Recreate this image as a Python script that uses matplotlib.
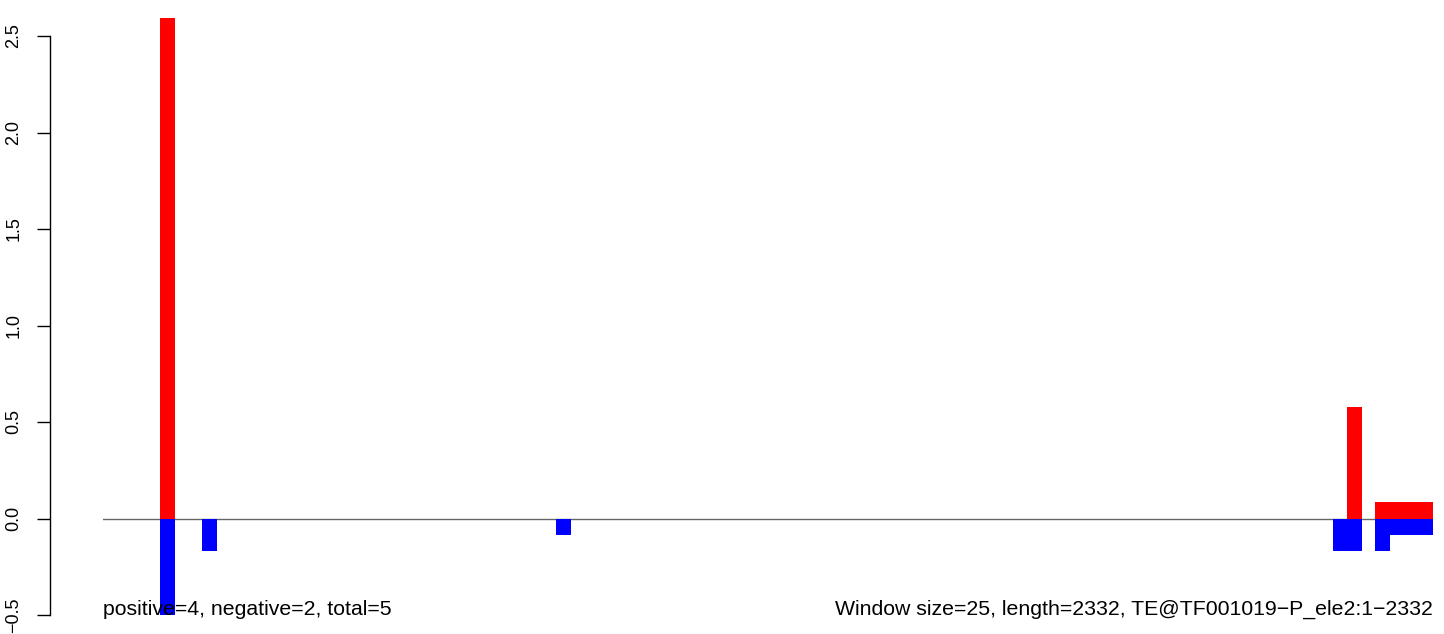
import matplotlib
matplotlib.use("Agg")
import matplotlib.pyplot as plt

plt.rcParams['font.family'] = ['Liberation Sans', 'DejaVu Sans']

# Bars: start and end in bp, then height
seq_length = 2332
pos_start = [100, 2181, 2230]
pos_end = [126, 2208, 2332]
pos_values = [2.594, 0.58, 0.083]
neg_start = [100, 174, 794, 2157, 2230, 2257]
neg_end = [126, 200, 821, 2208, 2257, 2332]
neg_values = [-0.5, -0.17, -0.088, -0.17, -0.17, -0.085]
left_note = "positive=4, negative=2, total=5"
right_note = "Window size=25, length=2332, TE@TF001019\u2212P_ele2:1\u22122332"
yticks = [-0.5, 0.0, 0.5, 1.0, 1.5, 2.0, 2.5]

W, H = 1444, 634
fig = plt.figure(figsize=(W / 100, H / 100), dpi=100)
x0, x1 = 103, 1433
y_top, y_bot = 0, 615
ax = fig.add_axes([x0 / W, 1 - y_bot / H, (x1 - x0) / W, (y_bot - y_top) / H])
ax.set_xlim(0, seq_length)
ax.set_ylim(-0.5, 2.5 + 36 / 193)

# Zero line
ax.axhline(0, color='#666666', lw=1, zorder=1)

ax.bar(pos_start, pos_values, width=[e - s for s, e in zip(pos_start, pos_end)],
       align='edge', color='#ff0000', lw=0, zorder=2)
ax.bar(neg_start, neg_values, width=[e - s for s, e in zip(neg_start, neg_end)],
       align='edge', color='#0000ff', lw=0, zorder=2)

# Axis styling, R-like
for side in ['top', 'right', 'bottom']:
    ax.spines[side].set_visible(False)
ax.spines['left'].set_position(('outward', 38.2))
ax.spines['left'].set_bounds(-0.5, 2.5)
ax.spines['left'].set_linewidth(1)
ax.set_xticks([])
ax.set_yticks(yticks)
ax.set_yticklabels(['%.1f' % v if v >= 0 else '\u22120.5' for v in yticks],
                   rotation=90, va='center', fontsize=13)
ax.tick_params(axis='y', length=9.2, width=1, pad=10.5)

ax.text(0, -0.5, left_note, fontsize=15.3, ha='left', va='baseline', zorder=3)
ax.text(seq_length, -0.5, right_note, fontsize=15.3, ha='right', va='baseline', zorder=3)

fig.savefig('out.png', dpi=100)
